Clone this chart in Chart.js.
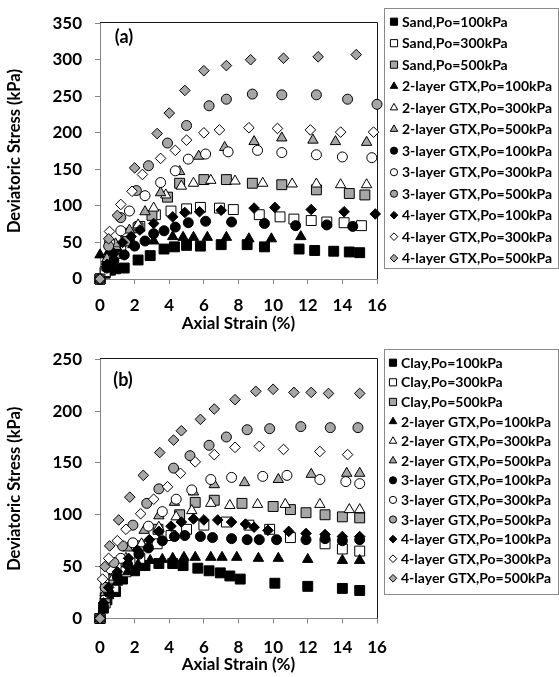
<!DOCTYPE html>
<html>
<head>
<meta charset="utf-8">
<script src="https://cdn.jsdelivr.net/npm/chart.js@4.4.1/dist/chart.umd.min.js"></script>
<style>
  html, body { margin: 0; padding: 0; background: #fff; }
  body { width: 559px; height: 677px; position: relative; overflow: hidden; }
  .wrap { position: absolute; left: 0; width: 559px; }
  #boxA { top: 0; height: 336px; }
  #boxB { top: 336px; height: 341px; }
</style>
</head>
<body>
<div class="wrap" id="boxA"><canvas id="chartA"></canvas></div>
<div class="wrap" id="boxB"><canvas id="chartB"></canvas></div>
<script>
// ---------- tick values ----------
const xTicks = [0, 2, 4, 6, 8, 10, 12, 14, 16];
const yTicksA = [0, 50, 100, 150, 200, 250, 300, 350];
const yTicksB = [0, 50, 100, 150, 200, 250];

// ---------- (a) sand : [strain %, deviatoric stress kPa] ----------
const namesA = ["Sand,Po=100kPa", "Sand,Po=300kPa", "Sand,Po=500kPa",
  "2-layer GTX,Po=100kPa", "2-layer GTX,Po=300kPa", "2-layer GTX,Po=500kPa",
  "3-layer GTX,Po=100kPa", "3-layer GTX,Po=300kPa", "3-layer GTX,Po=500kPa",
  "4-layer GTX,Po=100kPa", "4-layer GTX,Po=300kPa", "4-layer GTX,Po=500kPa"];

const sand100 = [[0,0],[0.3,8],[0.6,12],[0.9,14],[1.4,15],[2.2,26],[2.9,32],[3.7,41],[4.3,44],[5,46],[5.8,45],[7,47],[8.5,47],[9.5,44],[11.5,41],[12.4,39],[13.5,38],[14.4,37],[15,36]];
const sand300 = [[0,0],[0.3,10],[0.7,25],[1.2,40],[1.7,55],[2.3,72],[3.2,88],[4.1,93],[5,96],[5.8,98],[6.9,97],[7.7,95],[9.2,88],[10.4,85],[11.2,82],[12.2,80],[13.1,78],[14.1,77],[15.1,73]];
const sand500 = [[0,0],[0.4,18],[0.9,35],[1.5,52],[2.2,70],[3,87],[3.9,112],[4.6,131],[6,136],[7.3,136],[8.8,131],[10.5,129],[12.5,122],[14.4,117],[15.3,115]];
const sGtx2_100 = [[0,33],[0.5,37],[1,42],[1.9,47],[3.1,52],[4.2,58],[4.8,57],[5.4,57],[6.2,57],[7.3,57],[8.6,55],[9.9,55],[11.6,58]];
const sGtx2_300 = [[0,0],[0.4,25],[0.9,45],[1.5,62],[2.2,74],[3.1,97],[3.8,115],[4.7,127],[5.4,131],[6.4,135],[7.8,134],[9.4,131],[11.1,130],[12.5,130],[13.9,129],[15.4,129]];
const sGtx2_500 = [[0,0],[0.4,28],[0.9,48],[1.7,67],[2.6,92],[3.5,118],[4.6,147],[5.7,168],[7.2,180],[8.9,188],[10.5,193],[12.3,190],[13.6,188],[15.4,187]];
const sGtx3_100 = [[0,0],[0.4,15],[0.8,25],[1.4,33],[2,45],[2.6,52],[3.1,62],[3.7,66],[4.35,71],[5.1,77],[6.1,79],[7.6,78],[9.5,76],[11.3,73],[13.1,74],[14.6,72]];
const sGtx3_300 = [[0,0],[0.55,50],[1.2,66],[1.7,93],[2.6,114],[3.5,132],[4.35,148],[5.1,164],[6.1,171],[7.4,174],[9.1,176],[10.5,173],[12.5,170],[14,167],[15.7,166]];
const sGtx3_500 = [[0,0],[0.5,45],[1.2,84],[2.1,121],[2.8,155],[3.9,186],[5,210],[6.3,237],[7.3,246],[8.8,253],[10.5,252],[12.5,252],[14.3,246],[16,239]];
const sGtx4_100 = [[0,0],[0.4,20],[0.8,35],[1.3,50],[1.8,58],[2.3,67],[3.1,76],[4.2,85],[4.9,91],[5.75,92],[7,94],[8.9,97],[10.1,98],[12.2,95],[14.1,92],[15.9,89]];
const sGtx4_300 = [[0,0],[0.55,65],[1.2,102],[1.85,120],[2.45,143],[3.5,165],[4.35,176],[5,190],[6,200],[6.9,204],[8.6,207],[10.25,206],[12.15,204],[13.9,201],[15.8,201]];
const sGtx4_500 = [[0,0],[0.5,55],[1,87],[2,152],[3.3,199],[4,227],[4.9,258],[6,285],[7.3,292],[8.7,300],[10.6,302],[12.6,304],[14.8,307]];

// ---------- (b) clay ----------
const namesB = ["Clay,Po=100kPa", "Clay,Po=300kPa", "Clay,Po=500kPa",
  "2-layer GTX,Po=100kPa", "2-layer GTX,Po=300kPa", "2-layer GTX,Po=500kPa",
  "3-layer GTX,Po=100kPa", "3-layer GTX,Po=300kPa", "3-layer GTX,Po=500kPa",
  "4-layer GTX,Po=100kPa", "4-layer GTX,Po=300kPa", "4-layer GTX,Po=500kPa"];

const clay100 = [[0,0],[0.2,10],[0.4,18],[0.9,26],[1.3,38],[2,46],[2.6,51],[3.4,53],[4.2,53],[4.8,51],[5.65,48.5],[6.3,46],[6.95,44],[7.5,41],[8.1,38],[10.1,34],[12,31],[14,29],[15,27]];
const clay300 = [[0,0],[0.3,15],[0.8,30],[1.5,45],[2.3,58],[3.3,72],[4.1,80],[5,86],[6,90],[7.3,93],[8.6,90],[9.8,86],[11,78],[13,72],[14,67],[15,65]];
const clay500 = [[0,0],[0.3,20],[0.8,38],[1.5,55],[2.3,70],[3.35,86],[4.6,100],[5.5,112],[6.6,114],[8.2,111],[10,108],[11,105],[11.9,102],[13,100],[14,98],[15,97]];
const cGtx2_100 = [[0,0],[0.2,12],[0.5,22],[1,35],[1.6,45],[2.2,52],[2.9,56],[3.6,57],[4.2,58],[4.85,59],[5.5,59],[6.4,59],[7.05,59],[7.9,59],[9.15,58],[10.3,58],[12,57],[14,56],[15,56]];
const cGtx2_300 = [[0,0],[0.3,22],[0.8,40],[1.5,58],[2.4,72],[3.4,88],[4.4,98],[5.3,104],[6.4,111],[7.5,109],[9.1,110],[10.7,110],[12.7,110],[14.4,105],[15,105]];
const cGtx2_500 = [[0,0],[0.3,25],[0.8,45],[1.6,68],[2.55,85],[3.4,99],[4.3,112],[5.4,122],[6.6,129],[8.35,131],[10.3,134],[12.2,139],[14.25,140],[15,140]];
const cGtx3_100 = [[0,0],[0.2,12],[0.5,25],[1,40],[1.6,52],[2.25,62],[2.8,68],[3.6,75],[4.3,79],[4.9,80],[5.8,79],[6.5,78],[7.6,77],[8.5,76],[9.2,76],[10.2,76],[11.9,76],[13,77],[14,75],[15,76]];
const cGtx3_300 = [[0,0],[0.3,30],[0.6,48],[1.2,58],[1.9,73],[2.8,89],[3.6,103],[4.4,115],[5.3,124],[6.4,134],[7.6,136],[9.4,137],[10.8,138],[12.7,134],[14.2,132],[15,130]];
const cGtx3_500 = [[0,0],[0.3,30],[0.8,54],[1.3,70],[1.9,90],[2.7,111],[3.4,125],[4.25,145],[5.2,157],[6.3,167],[7.3,175],[8.5,182],[9.8,183],[11.6,185],[13.3,184],[14.9,184]];
const cGtx4_100 = [[0,0],[0.2,15],[0.5,30],[1,45],[1.65,58],[2.15,66],[2.85,76],[3.4,84],[4.1,89],[4.7,93],[5.4,96],[6,95],[6.8,95],[7.6,93],[8.4,91],[8.9,88],[9.7,85],[10.9,84],[11.9,82],[13,81],[14,79],[15,79]];
const cGtx4_300 = [[0,0],[0.15,38],[0.5,58],[1,75],[1.5,86],[2.35,101],[3.1,115],[3.9,127],[4.65,140],[5.5,151],[6.6,158],[7.8,165],[9.2,166],[10.6,163],[12.7,161],[14.3,158]];
const cGtx4_500 = [[0,0],[0.28,50],[0.56,70],[1.08,95],[1.72,117],[2.5,138],[3.45,160],[4.25,172],[4.7,181],[5.8,192],[6.6,202],[7.8,211],[9,219],[10,221],[11.2,218],[12.2,218],[13.2,217],[15,217]];

const seriesA = [sand100, sand300, sand500, sGtx2_100, sGtx2_300, sGtx2_500, sGtx3_100, sGtx3_300, sGtx3_500, sGtx4_100, sGtx4_300, sGtx4_500];
const seriesB = [clay100, clay300, clay500, cGtx2_100, cGtx2_300, cGtx2_500, cGtx3_100, cGtx3_300, cGtx3_500, cGtx4_100, cGtx4_300, cGtx4_500];

// marker look, same for both panels: shape by row, fill by pressure
const shapes = ['rect', 'triangle', 'circle', 'rectRot'];
const radii = { rect: 7, triangle: 6, circle: 5, rectRot: 5.3 };
const fills = ['#000000', '#ffffff', '#a6a6a6'];
const FONT = 'Lato';
const AXIS_GRAY = '#868686';

Chart.defaults.font.family = FONT;
Chart.defaults.color = '#000';

function makeDatasets(names, series) {
    return series.map((pts, i) => {
        const shape = shapes[Math.floor(i / 3)];
        return {
            label: names[i],
            data: pts.map(p => ({ x: p[0], y: p[1] })),
            pointStyle: shape,
            pointRadius: radii[shape],
            pointHoverRadius: radii[shape],
            backgroundColor: fills[i % 3],
            borderColor: '#000',
            borderWidth: 1,
            showLine: false,
            clip: false,
            order: series.length - i   // later series painted on top, like Excel
        };
    });
}

// draws a marker the same way for the legend
function drawMarker(ctx, shape, x, y, r) {
    ctx.beginPath();
    if (shape === 'rect') {
        const s = r * Math.SQRT1_2;
        ctx.rect(x - s, y - s, 2 * s, 2 * s);
    } else if (shape === 'triangle') {
        ctx.moveTo(x, y - r);
        ctx.lineTo(x + r * Math.sin(2 * Math.PI / 3), y + r / 2);
        ctx.lineTo(x - r * Math.sin(2 * Math.PI / 3), y + r / 2);
        ctx.closePath();
    } else if (shape === 'circle') {
        ctx.arc(x, y, r, 0, Math.PI * 2);
    } else {
        ctx.moveTo(x, y - r);
        ctx.lineTo(x + r, y);
        ctx.lineTo(x, y + r);
        ctx.lineTo(x - r, y);
        ctx.closePath();
    }
    ctx.fill();
    ctx.stroke();
}

// boxed legend + panel letter + plot-area frame
const decorPlugin = {
    id: 'decor',
    beforeDatasetsDraw(chart) {
        const { ctx, chartArea } = chart;
        ctx.save();
        ctx.strokeStyle = '#1a1a1a';
        ctx.lineWidth = 1;
        ctx.beginPath();
        ctx.moveTo(chartArea.left, Math.round(chartArea.top) - 0.5);
        ctx.lineTo(Math.round(chartArea.right) + 0.5, Math.round(chartArea.top) - 0.5);
        ctx.lineTo(Math.round(chartArea.right) + 0.5, chartArea.bottom);
        ctx.stroke();
        ctx.restore();
    },
    afterDraw(chart, args, opts) {
        const ctx = chart.ctx;
        ctx.save();
        // panel letter
        ctx.font = 'bold 18px ' + FONT;
        ctx.fillStyle = '#000';
        ctx.textAlign = 'center';
        ctx.textBaseline = 'middle';
        ctx.fillText(opts.letter, opts.letterX, opts.letterY);
        // legend box
        ctx.strokeStyle = '#8a8a8a';
        ctx.lineWidth = 1;
        ctx.strokeRect(opts.left + 0.5, opts.top + 0.5, opts.width, opts.height);
        ctx.font = 'bold 14px ' + FONT;
        ctx.textAlign = 'left';
        chart.data.datasets.forEach((ds, i) => {
            const y = opts.firstY + i * opts.step;
            ctx.fillStyle = ds.backgroundColor;
            ctx.strokeStyle = '#000';
            drawMarker(ctx, ds.pointStyle, opts.markX, y, ds.pointRadius * 0.72);
            ctx.fillStyle = '#000';
            ctx.fillText(ds.label, opts.textX, y + 0.5);
        });
        ctx.restore();
    }
};

function makeChart(id, names, series, yTicks, cfg) {
    return new Chart(document.getElementById(id), {
        type: 'scatter',
        data: { datasets: makeDatasets(names, series) },
        plugins: [decorPlugin],
        options: {
            responsive: true,
            maintainAspectRatio: false,
            animation: false,
            events: [],
            layout: { padding: { top: cfg.padTop, right: 559 - 377, left: 0, bottom: 0 } },
            plugins: {
                legend: { display: false },
                tooltip: { enabled: false },
                decor: cfg.legend
            },
            scales: {
                x: {
                    type: 'linear',
                    min: xTicks[0],
                    max: xTicks[xTicks.length - 1],
                    afterBuildTicks: s => { s.ticks = xTicks.map(v => ({ value: v })); },
                    afterFit: s => { s.height = cfg.xHeight; },
                    grid: { drawOnChartArea: false, drawTicks: true, tickLength: 5, color: AXIS_GRAY },
                    border: { color: AXIS_GRAY, width: 1 },
                    ticks: { padding: cfg.xPad, font: { size: 17, weight: 'bold' }, color: '#000', maxRotation: 0 },
                    title: { display: true, text: 'Axial Strain (%)', font: { size: 17, weight: 'bold' },
                             color: '#000', padding: { top: 0, bottom: cfg.titlePad } }
                },
                y: {
                    type: 'linear',
                    min: yTicks[0],
                    max: yTicks[yTicks.length - 1],
                    afterBuildTicks: s => { s.ticks = yTicks.map(v => ({ value: v })); },
                    afterFit: s => { s.width = 100; },
                    grid: { drawOnChartArea: false, drawTicks: true, tickLength: 5, color: AXIS_GRAY },
                    border: { color: AXIS_GRAY, width: 1 },
                    ticks: { padding: 13, font: { size: 17, weight: 'bold' }, color: '#000' },
                    title: { display: true, text: 'Deviatoric Stress (kPa)', font: { size: 16.5, weight: 'bold' },
                             color: '#000', padding: { top: 5, bottom: 0 } }
                }
            }
        }
    });
}

makeChart('chartA', namesA, seriesA, yTicksA, {
    padTop: 16, xHeight: 57, titlePad: 2, xPad: 11,
    legend: { letter: '(a)', letterX: 124, letterY: 37,
              left: 384, top: 8, width: 174, height: 260,
              firstY: 21.7, step: 21.5, markX: 394, textX: 402 }
});

makeChart('chartB', namesB, seriesB, yTicksB, {
    padTop: 21, xHeight: 58.5, titlePad: 2.5, xPad: 14,
    legend: { letter: '(b)', letterX: 123, letterY: 44,
              left: 384, top: 13, width: 174, height: 245,
              firstY: 26.7, step: 19.6, markX: 393, textX: 401 }
});
</script>
</body>
</html>
